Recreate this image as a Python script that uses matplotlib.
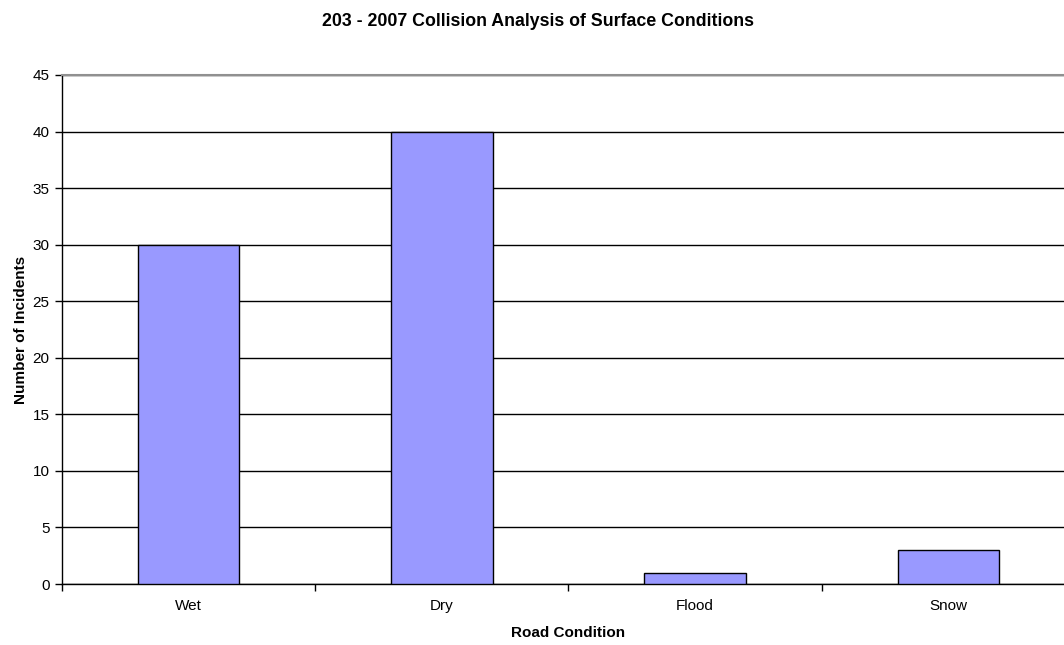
import numpy as np
import matplotlib.pyplot as plt

plt.rcParams['font.family'] = ['Liberation Sans', 'DejaVu Sans']

conditions = ['Wet', 'Dry', 'Flood', 'Snow']
incidents = [30, 40, 1, 3]

fig = plt.figure(figsize=(10.64, 6.45), dpi=100)
# plot area runs past the right edge of the figure
ax = fig.add_axes([62 / 1064, (645 - 584) / 645, 1013 / 1064, 509 / 645])

x = np.arange(len(conditions))
ax.bar(x, incidents, width=0.4, color='#9999FF', edgecolor='black', linewidth=1, zorder=3)

ax.set_xlim(-0.5, len(conditions) - 0.5)
ax.set_ylim(0, 45)
ax.set_yticks(np.arange(0, 46, 5))
ax.yaxis.grid(True, color='black', linewidth=1, zorder=0)

# category separators as major ticks, names as minor ticks
ax.set_xticks(np.arange(len(conditions) + 1) - 0.5)
ax.set_xticklabels([])
ax.set_xticks(x, minor=True)
ax.set_xticklabels(conditions, minor=True)
ax.tick_params(axis='x', which='minor', length=0, pad=11, labelsize=11)
ax.tick_params(axis='x', which='major', length=5, width=1, direction='out')
ax.tick_params(axis='y', length=5, width=1, direction='out', labelsize=11, pad=4)

ax.spines['right'].set_visible(False)
ax.spines['top'].set_color('#909090')
ax.spines['top'].set_linewidth(1.5)
ax.spines['left'].set_linewidth(1)
ax.spines['bottom'].set_linewidth(1)

ax.set_xlabel('Road Condition', fontsize=11, fontweight='bold', labelpad=9)
ax.set_ylabel('Number of Incidents', fontsize=11, fontweight='bold', labelpad=3)
fig.text(538 / 1064, 1 - 21 / 645, '203 - 2007 Collision Analysis of Surface Conditions',
         ha='center', va='center', fontsize=12.8, fontweight='bold')

fig.savefig('out.png', dpi=100)
